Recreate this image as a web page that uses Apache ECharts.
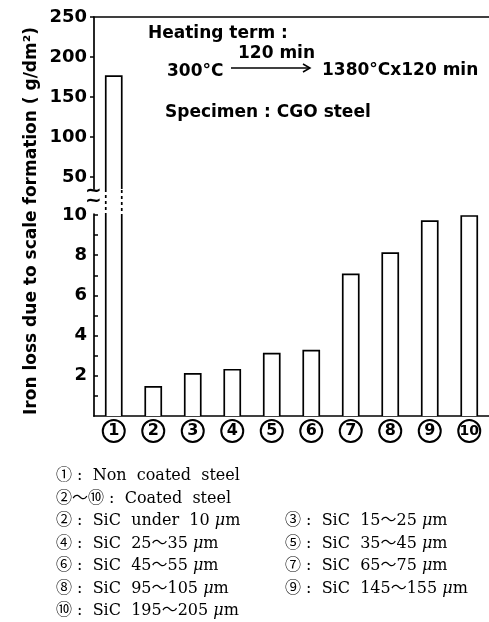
<!DOCTYPE html>
<html>
<head>
<meta charset="utf-8">
<script src="https://cdn.jsdelivr.net/npm/echarts@6/dist/echarts.min.js"></script>
<style>
  html, body { margin: 0; padding: 0; background: #fff; }
  #chart { width: 489px; height: 622px; }
</style>
</head>
<body>
<div id="chart"></div>
<script>
// ---- data ----
const categories = ['1', '2', '3', '4', '5', '6', '7', '8', '9', '10'];
const ironLoss = [176, 1.45, 2.1, 2.3, 3.1, 3.25, 7.05, 8.1, 9.7, 9.95];
const upperTickValues = [50, 100, 150, 200, 250];
const lowerLabelValues = [2, 4, 6, 8, 10];
const lowerTickValues = [1, 2, 3, 4, 5, 6, 7, 8, 9, 10];
const notesLeft = [
  '① :  Non  coated  steel',
  '②〜⑩ :  Coated  steel',
  '② :  SiC  under  10 μm',
  '④ :  SiC  25〜35 μm',
  '⑥ :  SiC  45〜55 μm',
  '⑧ :  SiC  95〜105 μm',
  '⑩ :  SiC  195〜205 μm'
];
const notesRight = [
  '③ :  SiC  15〜25 μm',
  '⑤ :  SiC  35〜45 μm',
  '⑦ :  SiC  65〜75 μm',
  '⑨ :  SiC  145〜155 μm'
];

// ---- styles ----
const SANS = "'DejaVu Sans', 'Liberation Sans', sans-serif";
const SERIF = "'DejaVu Serif', 'Liberation Serif', 'Noto Sans CJK JP', serif";
const BAR_W = 16;
const GRID_LEFT = 94, GRID_W = 407;
const NOTE_SIZE = 16;

function barRenderer(dotted) {
  return function (params, api) {
    const idx = api.value(0);
    const val = api.value(1);
    const base = api.coord([idx, 0]);
    const top = api.coord([idx, val]);
    const l = base[0] - BAR_W / 2, r = base[0] + BAR_W / 2;
    return {
      type: 'group',
      children: [
        { type: 'rect', shape: { x: l, y: top[1], width: BAR_W, height: base[1] - top[1] },
          style: { fill: '#fff' } },
        { type: 'polyline',
          shape: { points: [[l, base[1]], [l, top[1]], [r, top[1]], [r, base[1]]] },
          style: { fill: null, stroke: '#000', lineWidth: 1.7, lineDash: dotted ? [3, 3] : null } }
      ]
    };
  };
}

const barData = ironLoss.map((v, i) => [i, v]);

function richNote(s) {
  return s.replace(/μ/g, '{i|μ}');
}
const noteRich = {
  i: { fontStyle: 'italic', fontFamily: SERIF, fontSize: NOTE_SIZE, fill: '#000' }
};

const graphics = [];
graphics.push(
  { type: 'text', left: 148, top: 25, style: { text: 'Heating term :', font: 'bold 17px ' + SANS, fill: '#000' } },
  { type: 'text', left: 167, top: 63, style: { text: '300°C', font: 'bold 17px ' + SANS, fill: '#000' } },
  { type: 'text', left: 238, top: 45, style: { text: '120 min', font: 'bold 17px ' + SANS, fill: '#000' } },
  { type: 'line', shape: { x1: 231, y1: 68, x2: 310, y2: 68 }, style: { stroke: '#000', lineWidth: 1.5 } },
  { type: 'polyline', shape: { points: [[303, 64], [310, 68], [303, 72]] }, style: { stroke: '#000', lineWidth: 1.5, fill: null } },
  { type: 'text', left: 322, top: 62, style: { text: '1380°Cx120 min', font: 'bold 17px ' + SANS, fill: '#000' } },
  { type: 'text', left: 165, top: 104, style: { text: 'Specimen : CGO steel', font: 'bold 17px ' + SANS, fill: '#000' } },
  // axis break marks
  { type: 'text', left: 85, top: 181, style: { text: '~', font: 'bold 20px ' + SANS, fill: '#000' } },
  { type: 'text', left: 85, top: 191, style: { text: '~', font: 'bold 20px ' + SANS, fill: '#000' } },
  // y axis title
  { type: 'text', x: 32, y: 221, rotation: Math.PI / 2,
    style: { text: 'Iron loss due to scale formation ( g/dm²)', font: 'bold 17px ' + SANS, fill: '#000',
             align: 'center', verticalAlign: 'middle' } }
);
const rowY = [478, 500.5, 523, 545.5, 568, 590.5, 613];
notesLeft.forEach((s, i) => {
  graphics.push({ type: 'text', left: 56, top: rowY[i] - 10,
    style: { text: richNote(s), fontFamily: SERIF, fontSize: NOTE_SIZE, fill: '#000', rich: noteRich } });
});
notesRight.forEach((s, i) => {
  graphics.push({ type: 'text', left: 285, top: rowY[i + 2] - 10,
    style: { text: richNote(s), fontFamily: SERIF, fontSize: NOTE_SIZE, fill: '#000', rich: noteRich } });
});

const axisLineStyle = { show: true, onZero: false, lineStyle: { color: '#000', width: 1.7 } };
const yLabelStyle = { color: '#000', fontFamily: SANS, fontWeight: 'bold', fontSize: 18, margin: 7 };
const circleStyle = { width: 22, height: 22, lineHeight: 22, align: 'center', borderRadius: 12,
                      borderWidth: 2, borderColor: '#000', color: '#000',
                      fontFamily: SANS, fontWeight: 'bold' };

const option = {
  animation: false,
  backgroundColor: '#fff',
  grid: [
    { left: GRID_LEFT, width: GRID_W, top: 17, height: 172 },
    { left: GRID_LEFT, width: GRID_W, top: 189, height: 25 },
    { left: GRID_LEFT, width: GRID_W, top: 214, height: 202 }
  ],
  xAxis: [
    { gridIndex: 0, type: 'category', data: categories, position: 'top',
      axisLine: axisLineStyle, axisTick: { show: false }, axisLabel: { show: false }, splitLine: { show: false } },
    { gridIndex: 1, type: 'category', data: categories, show: false },
    { gridIndex: 2, type: 'category', data: categories, position: 'bottom',
      axisLine: axisLineStyle, axisTick: { show: false }, splitLine: { show: false },
      axisLabel: {
        interval: 0, margin: 4,
        formatter: v => (v === '10' ? '{d|' + v + '}' : '{c|' + v + '}'),
        rich: {
          c: Object.assign({ fontSize: 16 }, circleStyle),
          d: Object.assign({ fontSize: 14 }, circleStyle)
        }
      } }
  ],
  yAxis: [
    { gridIndex: 0, type: 'value', min: 35, max: 250,
      axisLine: axisLineStyle,
      axisTick: { show: true, length: 4, customValues: upperTickValues, lineStyle: { color: '#000', width: 1.5 } },
      axisLabel: Object.assign({ customValues: upperTickValues }, yLabelStyle),
      splitLine: { show: false } },
    { gridIndex: 1, type: 'value', min: 20, max: 30, show: false, splitLine: { show: false } },
    { gridIndex: 2, type: 'value', min: 0, max: 10.05,
      axisLine: axisLineStyle,
      axisTick: { show: true, inside: true, length: 4, customValues: lowerTickValues, lineStyle: { color: '#000', width: 1.5 } },
      axisLabel: Object.assign({ customValues: lowerLabelValues }, yLabelStyle),
      splitLine: { show: false } }
  ],
  series: [
    { type: 'custom', xAxisIndex: 0, yAxisIndex: 0, clip: true, data: barData,
      encode: { x: 0, y: 1 }, renderItem: barRenderer(false) },
    { type: 'custom', xAxisIndex: 1, yAxisIndex: 1, clip: true, data: barData,
      encode: { x: 0, y: 1 }, renderItem: barRenderer(true) },
    { type: 'custom', xAxisIndex: 2, yAxisIndex: 2, clip: true, data: barData,
      encode: { x: 0, y: 1 }, renderItem: barRenderer(false) }
  ],
  graphic: graphics
};

const chart = echarts.init(document.getElementById('chart'), null, { renderer: 'canvas' });
chart.setOption(option);
</script>
</body>
</html>
